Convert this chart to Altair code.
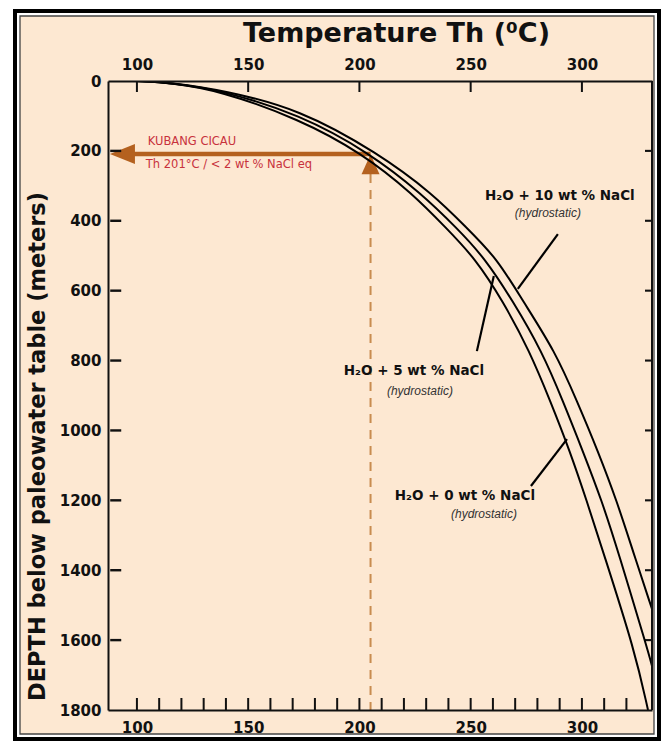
import altair as alt
import pandas as pd

# ---------------- data ----------------
X_DOMAIN = [87, 331.5]
Y_DOMAIN = [0, 1800]

TOP_TICKS = [100, 150, 200, 250, 300]
BOTTOM_LABELS = [100, 150, 200, 250, 300]
BOTTOM_TICKS = [100, 110, 120, 130, 140, 150, 160, 170, 180, 190, 200, 210,
                220, 230, 240, 250, 260, 270, 280, 290, 300, 310, 320]
DEPTH_LABELS = [0, 200, 400, 600, 800, 1000, 1200, 1400, 1600, 1800]
DEPTH_TICKS = [200, 400, 600, 800, 1000, 1200, 1400, 1600]
# anchor of the inward side ticks on the temperature axis (left edge, right edge)
LEFT_TICK_T = 88.0
RIGHT_TICK_T = 331.5

# boiling point - depth curves (hydrostatic)
DEPTH_0 = [0, 5, 27, 109, 206, 323, 421, 507, 630, 773, 916, 1059, 1202, 1345, 1631, 1800]
TEMP_0 = [100, 115, 137, 173, 201, 224, 239, 252, 264.5, 276.5, 285.8, 294.6, 302.2, 309.4, 323.8, 329.7]
DEPTH_5 = [0, 5, 27, 95, 206, 323, 421, 507, 630, 773, 916, 1059, 1202, 1345, 1631, 1674]
TEMP_5 = [100, 115.5, 138, 173, 204.7, 228, 243.8, 256.4, 269, 282, 291.5, 300.4, 309, 316.2, 329.7, 331.5]
DEPTH_10 = [0, 5, 27, 80, 206, 323, 421, 507, 630, 773, 916, 1059, 1202, 1345, 1511]
TEMP_10 = [100, 116, 139, 173, 208.3, 233, 248.3, 261.8, 273.5, 287.9, 297.8, 307.2, 315.7, 322.9, 331.5]

# Kubang Cicau annotation
ARROW_DEPTH = 209
ARROW_T = [93.5, 205]
HEAD_T = 93.5
TRI_T = 205
TRI_DEPTH = 238
DASH_T = 205
DASH_DEPTH = [266, 1800]

ANNOT_TEXT = ["KUBANG CICAU", "Th 201\u00b0C / < 2 wt % NaCl eq"]
ANNOT_T = [104.9, 104.0]
ANNOT_DEPTH = [175, 240]

LABEL_TEXT = ["H\u2082O + 10 wt % NaCl", "H\u2082O + 5 wt % NaCl", "H\u2082O + 0 wt % NaCl"]
LABEL_T = [290.1, 224.5, 247.4]
LABEL_DEPTH = [329, 830, 1188]
SUB_TEXT = ["(hydrostatic)", "(hydrostatic)", "(hydrostatic)"]
SUB_T = [284.7, 227.2, 256.0]
SUB_DEPTH = [378, 887, 1239]

PTR_T1 = [289.2, 252.8, 277.1]
PTR_D1 = [438, 773, 1159]
PTR_T2 = [271.2, 260.4, 293.3]
PTR_D2 = [595, 558, 1025]

# ---------------- styles ----------------
FONT = "DejaVu Sans"
PEACH = "#fde8d2"
BROWN = "#b4611f"
DASHC = "#c88c50"
RED = "#c8323c"
INK = "#111111"
W, H = 544, 629

xs = alt.Scale(domain=X_DOMAIN, nice=False, zero=False)
ys = alt.Scale(domain=Y_DOMAIN, reverse=True, nice=False, zero=False)

curve_df = pd.concat([
    pd.DataFrame({"series": "0 wt%", "depth": DEPTH_0, "T": TEMP_0}),
    pd.DataFrame({"series": "5 wt%", "depth": DEPTH_5, "T": TEMP_5}),
    pd.DataFrame({"series": "10 wt%", "depth": DEPTH_10, "T": TEMP_10}),
])

one = pd.DataFrame({"a": [0]})

top_axis = alt.Axis(orient="top", values=TOP_TICKS, title="Temperature Th (\u2070C)",
                    ticks=False, tickSize=0, grid=False, labelFont=FONT, labelFontSize=15,
                    labelFontWeight="bold", labelColor=INK, labelPadding=9, labelFlush=False,
                    domainColor=INK, domainWidth=2, titleFont=FONT, titleFontSize=27,
                    titleFontWeight="bold", titleColor=INK, titleX=288, titleY=-48,
                    titleAlign="center", titleBaseline="middle", zindex=1)
bottom_axis = alt.Axis(orient="bottom", values=BOTTOM_LABELS, title=None,
                       ticks=False, tickSize=0, grid=False, labelFont=FONT, labelFontSize=15,
                       labelFontWeight="bold", labelColor=INK, labelPadding=10, labelFlush=False,
                       domainColor=INK, domainWidth=2, zindex=1)
left_axis = alt.Axis(orient="left", values=DEPTH_LABELS, format="d",
                     title="DEPTH below paleowater table (meters)",
                     ticks=False, tickSize=0, grid=False, labelFont=FONT, labelFontSize=15,
                     labelFontWeight="bold", labelColor=INK, labelPadding=7, labelFlush=False,
                     domainColor=INK, domainWidth=2, titleFont=FONT, titleFontSize=22.5,
                     titleFontWeight="bold", titleColor=INK, titleAngle=270, titleX=-71,
                     titleY=365, titleAlign="center", titleBaseline="middle", zindex=1)

outer = alt.Chart(one).mark_rect(fill="transparent", stroke="black", strokeWidth=4).encode(
    x=alt.value(-93), x2=alt.value(551), y=alt.value(-70), y2=alt.value(658))
inner = alt.Chart(one).mark_rect(fill=PEACH, stroke="#444444", strokeWidth=1.3).encode(
    x=alt.value(-88), x2=alt.value(546), y=alt.value(-65), y2=alt.value(653))

dash = alt.Chart(pd.DataFrame({"t": [DASH_T], "d1": [DASH_DEPTH[0]], "d2": [DASH_DEPTH[1]]})).mark_rule(
    color=DASHC, strokeWidth=2, strokeDash=[9, 7]).encode(
    x=alt.X("t:Q", scale=xs, axis=None),
    y=alt.Y("d1:Q", scale=ys, axis=None), y2="d2:Q")

arrow = alt.Chart(pd.DataFrame({"t1": [ARROW_T[0]], "t2": [ARROW_T[1]], "d": [ARROW_DEPTH]})).mark_rule(
    color=BROWN, strokeWidth=4.5).encode(
    x=alt.X("t1:Q", scale=xs, axis=None), x2="t2:Q",
    y=alt.Y("d:Q", scale=ys, axis=None))

head = alt.Chart(pd.DataFrame({"t": [HEAD_T], "d": [ARROW_DEPTH]})).mark_point(
    shape="M-1,0 L1,-0.8 L1,0.8 Z", size=625, filled=True, color=BROWN, opacity=1, strokeWidth=0).encode(
    x=alt.X("t:Q", scale=xs, axis=None), y=alt.Y("d:Q", scale=ys, axis=None))

tri = alt.Chart(pd.DataFrame({"t": [TRI_T], "d": [TRI_DEPTH]})).mark_point(
    shape="M0,-1 L0.9,1 L-0.9,1 Z", size=400, filled=True, color=BROWN, opacity=1, strokeWidth=0).encode(
    x=alt.X("t:Q", scale=xs, axis=None), y=alt.Y("d:Q", scale=ys, axis=None))

# inward side ticks drawn as bar-shaped symbols anchored on the frame edges
lticks = alt.Chart(pd.DataFrame({"t": LEFT_TICK_T, "d": DEPTH_TICKS})).mark_point(
    shape="M0,-0.11 L1,-0.11 L1,0.11 L0,0.11 Z", size=484, filled=True, color=INK,
    opacity=1, strokeWidth=0).encode(
    x=alt.X("t:Q", scale=xs, axis=None), y=alt.Y("d:Q", scale=ys, axis=None))

rticks = alt.Chart(pd.DataFrame({"t": RIGHT_TICK_T, "d": DEPTH_TICKS})).mark_point(
    shape="M-1,-0.15 L0,-0.15 L0,0.15 L-1,0.15 Z", size=196, filled=True, color=INK,
    opacity=1, strokeWidth=0).encode(
    x=alt.X("t:Q", scale=xs, axis=None), y=alt.Y("d:Q", scale=ys, axis=None))

curves = alt.Chart(curve_df).mark_line(color="black", strokeWidth=2, interpolate="basis", clip=True).encode(
    x=alt.X("T:Q", scale=xs, axis=top_axis),
    y=alt.Y("depth:Q", scale=ys, axis=left_axis),
    detail="series:N", order="depth:Q")

ptr = alt.Chart(pd.DataFrame({"t1": PTR_T1, "d1": PTR_D1, "t2": PTR_T2, "d2": PTR_D2})).mark_rule(
    color="black", strokeWidth=2.2).encode(
    x=alt.X("t1:Q", scale=xs, axis=None), x2="t2:Q",
    y=alt.Y("d1:Q", scale=ys, axis=None), y2="d2:Q")

annot = alt.Chart(pd.DataFrame({"t": ANNOT_T, "d": ANNOT_DEPTH, "s": ANNOT_TEXT})).mark_text(
    align="left", baseline="middle", font=FONT, fontSize=11.5, color=RED).encode(
    x=alt.X("t:Q", scale=xs, axis=None), y=alt.Y("d:Q", scale=ys, axis=None), text="s:N")

labels = alt.Chart(pd.DataFrame({"t": LABEL_T, "d": LABEL_DEPTH, "s": LABEL_TEXT})).mark_text(
    align="center", baseline="middle", font=FONT, fontSize=13.5, fontWeight="bold", color=INK).encode(
    x=alt.X("t:Q", scale=xs, axis=None), y=alt.Y("d:Q", scale=ys, axis=None), text="s:N")

subs = alt.Chart(pd.DataFrame({"t": SUB_T, "d": SUB_DEPTH, "s": SUB_TEXT})).mark_text(
    align="center", baseline="middle", font="Liberation Sans", fontSize=12, fontStyle="italic",
    color="#333333").encode(
    x=alt.X("t:Q", scale=xs, axis=None), y=alt.Y("d:Q", scale=ys, axis=None), text="s:N")

top_ticks = alt.Chart(pd.DataFrame({"t": TOP_TICKS})).mark_rule(color=INK, strokeWidth=2).encode(
    x=alt.X("t:Q", scale=xs, axis=None), y=alt.value(0), y2=alt.value(11))

bottom_ticks = alt.Chart(pd.DataFrame({"t": BOTTOM_TICKS})).mark_rule(color=INK, strokeWidth=2).encode(
    x=alt.X("t:Q", scale=xs, axis=bottom_axis), y=alt.value(H), y2=alt.value(H - 12))

right_border = alt.Chart(one).mark_rule(color=INK, strokeWidth=2).encode(
    x=alt.value(W), y=alt.value(0), y2=alt.value(H))

chart = alt.layer(
    outer, inner, dash, arrow, head, tri, lticks, rticks, curves, ptr, annot, labels, subs,
    top_ticks, bottom_ticks, right_border
).resolve_axis(x="independent", y="independent").properties(
    width=W, height=H,
    padding={"left": 100, "top": 73, "right": 9, "bottom": 32},
    autosize=alt.AutoSizeParams(type="none"),
    background="white",
).configure_view(stroke=None)

chart.save("out.html", embed_options={"renderer": "svg", "actions": False})
